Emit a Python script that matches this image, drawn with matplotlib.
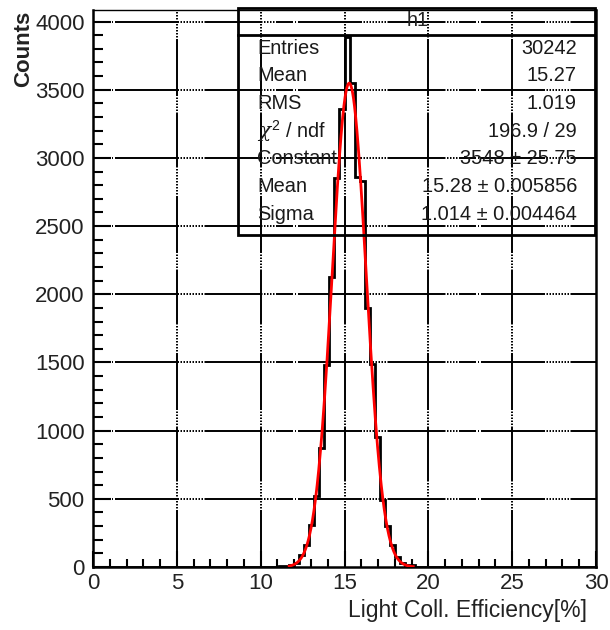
import numpy as np
import matplotlib
matplotlib.use('Agg')
import matplotlib.pyplot as plt
from matplotlib.patches import Rectangle
from matplotlib.lines import Line2D
from matplotlib.ticker import MultipleLocator

plt.rcParams['font.family'] = ['Liberation Sans', 'DejaVu Sans']
plt.rcParams['mathtext.fontset'] = 'custom'
plt.rcParams['mathtext.rm'] = 'Liberation Sans'
plt.rcParams['mathtext.it'] = 'DejaVu Serif:italic'
plt.rcParams['lines.scale_dashes'] = False

# h1 : 100 bins on [0,30], only the filled bins listed
nbins = 100
xmin, xmax = 0.0, 30.0
first_bin = 34
counts_nz = [1, 1, 3, 4, 6, 14, 30, 90, 160, 310, 520, 870, 1480, 2130,
             2850, 3360, 3890, 3550, 2860, 2830, 1900, 1490, 950, 490,
             300, 160, 70, 30, 14, 12, 3, 1]

# gaus fit result
fit_const, fit_mean, fit_sigma = 3548.0, 15.28, 1.014
fit_lo, fit_hi = 11.7, 19.1

stat_names = ['Entries', 'Mean', 'RMS', r'$\chi^{2}$ / ndf', 'Constant', 'Mean', 'Sigma']
stat_values = ['30242', '15.27', '1.019', '196.9 / 29', '3548 \u00b1 25.75',
               '15.28 \u00b1 0.005856', '1.014 \u00b1 0.004464']

counts = np.zeros(nbins)
counts[first_bin:first_bin + len(counts_nz)] = counts_nz
edges = np.linspace(xmin, xmax, nbins + 1)
ymax = 1.05 * counts.max()

W, H = 610, 630
fig = plt.figure(figsize=(W / 100, H / 100), dpi=100)
fx = lambda px: px / W
fy = lambda py: 1 - py / H
ax = fig.add_axes([fx(93), fy(567), fx(596) - fx(93), fy(10) - fy(567)])
ax.set_xlim(xmin, xmax)
ax.set_ylim(0, ymax)

# root-style grid: solid with dotted stretches, pattern given in pixels
def dash_seq(runs):
    seq = []
    for on, off in runs:
        seq += [on * 0.72, off * 0.72]
    return seq

h_runs = [(17, 2), (1, 2), (64, 1.5)]
for k in range(5):
    h_runs += [(1.5, 1.5)] * 8 + [(58, 1.5)]
v_runs = [(57, 1.5)]
for k in range(7):
    v_runs += [(1.5, 1.5)] * 9 + [(55, 1.5)]

for yv in range(500, 4001, 500):
    ax.plot([xmin, xmax], [yv, yv], color='black', lw=1.4,
            dashes=dash_seq(h_runs), zorder=1)
for xv in range(5, 30, 5):
    ax.plot([xv, xv], [0, ymax], color='black', lw=1.4,
            dashes=dash_seq(v_runs), zorder=1)

ax.stairs(counts, edges, color='black', lw=2.0, zorder=3)

xf = np.linspace(fit_lo, fit_hi, 400)
yf = fit_const * np.exp(-0.5 * ((xf - fit_mean) / fit_sigma) ** 2)
ax.plot(xf, yf, color='#ff0000', lw=2.0, zorder=4)

for s in ['left', 'bottom', 'right']:
    ax.spines[s].set_linewidth(1.8)
ax.spines['top'].set_linewidth(1.0)

ax.xaxis.set_major_locator(MultipleLocator(5))
ax.xaxis.set_minor_locator(MultipleLocator(1))
ax.yaxis.set_major_locator(MultipleLocator(500))
ax.yaxis.set_minor_locator(MultipleLocator(100))
ax.tick_params(direction='in', which='both', width=1.5, colors='black',
               labelcolor='#222222', labelsize=16)
ax.tick_params(axis='x', which='major', length=11.5, pad=4)
ax.tick_params(axis='x', which='minor', length=6)
ax.tick_params(axis='y', which='major', length=13, pad=6)
ax.tick_params(axis='y', which='minor', length=7)

fig.text(fx(587), fy(610), 'Light Coll. Efficiency[%]', ha='right', va='center',
         fontsize=16.5, color='#222222')
fig.text(fx(24), fy(11), 'Counts', rotation=90, ha='center', va='top',
         fontsize=16, fontweight='bold', color='#222222')

# stats box (no fill)
bx0, bx1, by0, by1 = 238, 595, 8, 235
fig.patches.append(Rectangle((fx(bx0), fy(by1)), fx(bx1) - fx(bx0), fy(by0) - fy(by1),
                             transform=fig.transFigure, fill=False,
                             edgecolor='black', lw=2.0, zorder=5))
fig.lines.append(Line2D([fx(bx0), fx(bx1)], [fy(35), fy(35)],
                        transform=fig.transFigure, color='black', lw=2.0))
fig.text(fx(418), fy(20), 'h1', ha='center', va='center', fontsize=14.4,
         color='#222222')
for i, (nm, val) in enumerate(zip(stat_names, stat_values)):
    yy = fy(48 + i * 27.7)
    fig.text(fx(257), yy, nm, ha='left', va='center', fontsize=14.4, color='#1a1a1a')
    fig.text(fx(577), yy, val, ha='right', va='center', fontsize=14.4, color='#1a1a1a')

fig.savefig('out.png', dpi=100)
